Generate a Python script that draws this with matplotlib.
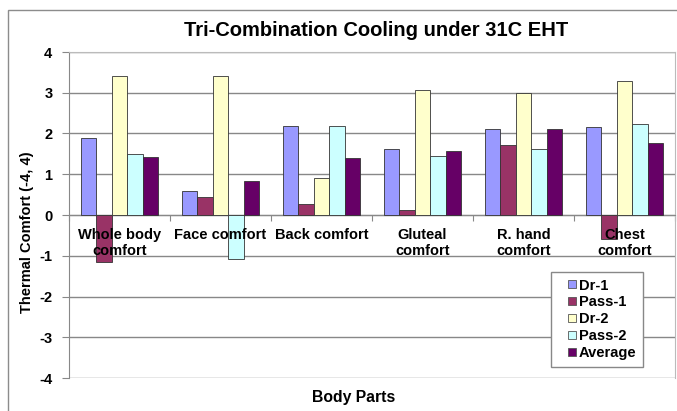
import numpy as np
import matplotlib.pyplot as plt
from matplotlib.patches import Rectangle
from matplotlib.lines import Line2D

categories = ['Whole body\ncomfort', 'Face comfort', 'Back comfort',
              'Gluteal\ncomfort', 'R. hand\ncomfort', 'Chest\ncomfort']
series_names = ['Dr-1', 'Pass-1', 'Dr-2', 'Pass-2', 'Average']
dr1 = [1.88, 0.59, 2.18, 1.63, 2.10, 2.15]
pass1 = [-1.15, 0.45, 0.26, 0.12, 1.73, -0.60]
dr2 = [3.42, 3.42, 0.92, 3.07, 2.99, 3.30]
pass2 = [1.50, -1.09, 2.18, 1.46, 1.63, 2.23]
average = [1.43, 0.84, 1.39, 1.58, 2.10, 1.77]
colors = ['#9999FF', '#993366', '#FFFFCC', '#CCFFFF', '#660066']

plt.rcParams['font.family'] = ['Liberation Sans', 'DejaVu Sans']
plt.rcParams['font.weight'] = 'bold'
plt.rcParams['axes.unicode_minus'] = False

fig = plt.figure(figsize=(6.77, 4.11), dpi=100)
ax = fig.add_axes([69 / 677, 1 - 378 / 411, 606 / 677, 326 / 411])

# outer chart border, runs off the right and bottom edge
fig.patches.append(Rectangle((8 / 677, -0.05), 1.0, 1 - 10 / 411 + 0.05,
                             transform=fig.transFigure, fill=False,
                             edgecolor='#8c8c8c', linewidth=1.0))

x = np.arange(len(categories))
w = 1 / 6.5
data = [dr1, pass1, dr2, pass2, average]
for i, (vals, c, name) in enumerate(zip(data, colors, series_names)):
    ax.bar(x + (i - 2) * w, vals, width=w, color=c, edgecolor='#333333',
           linewidth=0.6, label=name, zorder=3)

ax.set_xlim(-0.5, len(categories) - 0.5)
ax.set_ylim(-4, 4)
ax.set_yticks(range(-4, 5))
ax.yaxis.grid(True, color='#888888', linewidth=1.0, zorder=0)
ax.tick_params(axis='y', length=5, color='#888888', labelsize=10.5, pad=7)

ax.spines['bottom'].set_position(('data', 0))
ax.spines['bottom'].set_color('#888888')
ax.spines['left'].set_color('#888888')
ax.spines['top'].set_color('#bbbbbb')
ax.spines['right'].set_color('#bbbbbb')
ax.set_xticks(np.arange(len(categories) + 1) - 0.5)
ax.set_xticklabels([])
ax.tick_params(axis='x', length=4, color='#888888')

# category labels sit on top of the bars
for xi, lab in zip(x, categories):
    ax.annotate(lab, (xi, 0), xytext=(0, -9), textcoords='offset points',
                ha='center', va='top', fontsize=10.5, fontweight='bold',
                linespacing=1.25, zorder=6, annotation_clip=False)

fig.text(376 / 677, 1 - 30 / 411, 'Tri-Combination Cooling under 31C EHT',
         ha='center', va='center', fontsize=14.5, fontweight='bold')
fig.text(27 / 677, 1 - 232 / 411, 'Thermal Comfort (-4, 4)', rotation=90,
         ha='center', va='center', fontsize=10.5, fontweight='bold')
fig.text(354 / 677, 1 - 397 / 411, 'Body Parts', ha='center', va='center',
         fontsize=11.3, fontweight='bold')

handles = [Line2D([], [], linestyle='none', marker='s', markersize=5.5,
                  markerfacecolor=c, markeredgecolor='#555555',
                  markeredgewidth=0.6) for c in colors]
leg = fig.legend(handles, series_names, loc='upper left',
                 bbox_to_anchor=(551 / 677, 1 - 272 / 411),
                 borderaxespad=0, fontsize=10.5, handlelength=2.0,
                 handletextpad=-0.55, labelspacing=0.2, borderpad=0.45,
                 fancybox=False, edgecolor='#888888', framealpha=1)
leg.get_frame().set_linewidth(1.0)

fig.savefig('out.png', dpi=100)
